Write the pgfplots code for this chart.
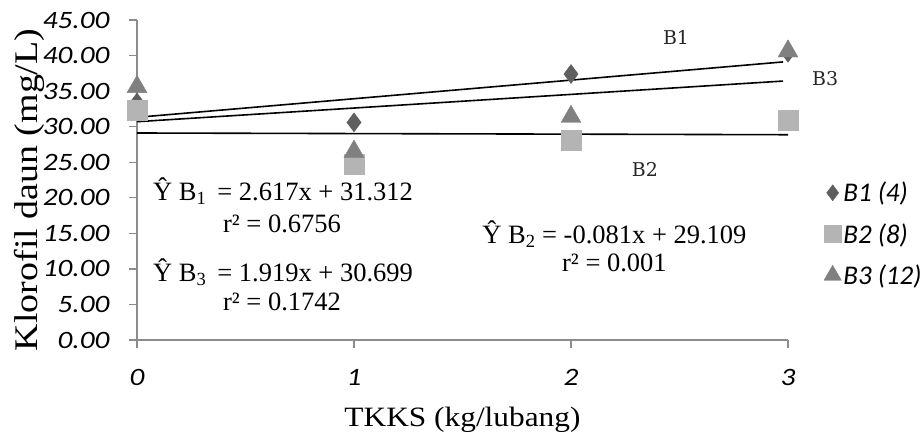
\documentclass[border=0pt]{standalone}
\usepackage{fontspec}
\usepackage{graphicx}
\setmainfont{Liberation Serif}
\newfontfamily\ticf{Carlito}
\newfontfamily\monof{DejaVu Serif}
\usepackage{pgfplots}
\pgfplotsset{compat=1.18}
\definecolor{cB1}{HTML}{5F5F5F}
\definecolor{cB2}{HTML}{B4B4B4}
\definecolor{cB3}{HTML}{808080}
\definecolor{axgray}{HTML}{8C8C8C}
\begin{document}
\begin{tikzpicture}[x=1pt,y=1pt]
\begin{axis}[
  at={(137pt,95pt)}, anchor=origin,
  scale only axis, width=651pt, height=320pt,
  xmin=0, xmax=3, ymin=0, ymax=45,
  axis x line*=bottom, axis y line*=left,
  axis line style={axgray, line width=1.4pt, -},
  xtick={0,1,2,3}, ytick={0,5,...,45},
  tick align=outside, major tick length=8pt,
  tick style={axgray, line width=1.4pt},
  clip=false,
  /pgf/number format/assume math mode=true,
  yticklabel={\scalebox{1.17}[1]{\pgfmathprintnumber[fixed,fixed zerofill,precision=2]{\tick}}},
  xticklabel={\scalebox{1.17}[1]{\pgfmathprintnumber{\tick}}},
  ticklabel style={font=\ticf\itshape\fontsize{25}{25}\selectfont},
  yticklabel style={xshift=-16pt},
  xticklabel style={yshift=-18pt},
  xlabel={\fontsize{28}{28}\selectfont\scalebox{1.12}[1]{TKKS (kg/lubang)}},
  ylabel={\fontsize{33}{33}\selectfont\scalebox{1.15}[1]{Klorofil daun (mg/L)}},
  xlabel style={yshift=-14pt},
  ylabel style={at={(ticklabel cs:0.469)}, yshift=-9pt},
  legend style={at={(1.055,0.50)}, anchor=north west, draw=none, fill=none,
    font=\ticf\itshape\fontsize{27}{27}\selectfont, row sep=16pt,
    legend cell align=left, inner sep=0pt,
    nodes={inner sep=2pt}},
  legend image code/.code={\draw[#1] plot coordinates {(0.3cm,0cm)};},
]
% trend lines
\addplot[black, line width=1.6pt, forget plot] coordinates {(0,31.312) (2.977,39.103)};
\addplot[black, line width=1.6pt, forget plot] coordinates {(0,29.109) (3,28.866)};
\addplot[black, line width=1.6pt, forget plot] coordinates {(0,30.699) (2.977,36.412)};
% data
\addplot[only marks, mark=diamond*, mark size=9.5pt, color=cB1, legend image post style={mark size=8pt}] coordinates {(0,33.4) (1,30.6) (2,37.4) (3,40.4)};
\addlegendentry{B1 (4)}
\addplot[only marks, mark=square*, mark size=9.8pt, color=cB2, legend image post style={mark size=8.5pt}] coordinates {(0,32.3) (1,24.7) (2,28.1) (3,30.9)};
\addlegendentry{B2 (8)}
\addplot[only marks, mark=triangle*, mark size=11.5pt, color=cB3, legend image post style={mark size=10pt}] coordinates {(0,35.6) (1,26.5) (2,31.4) (3,40.6)};
\addlegendentry{B3 (12)}
% labels
\node[font=\monof\fontsize{19}{19}\selectfont, text=black!85] at (axis cs:2.484,42.6) {B1};
\node[font=\monof\fontsize{19}{19}\selectfont, text=black!85] at (axis cs:3.171,36.8) {B3};
\node[font=\monof\fontsize{19}{19}\selectfont, text=black!85] at (axis cs:2.341,24.0) {B2};
\node[font=\fontsize{26.5}{26.5}\selectfont] at (axis cs:0.673,20.9) {Ŷ B\textsubscript{1} \,= 2.617x + 31.312};
\node[font=\fontsize{26.5}{26.5}\selectfont] at (axis cs:0.668,16.3) {r² = 0.6756};
\node[font=\fontsize{26.5}{26.5}\selectfont] at (axis cs:0.673,9.5) {Ŷ B\textsubscript{3} \,= 1.919x + 30.699};
\node[font=\fontsize{26.5}{26.5}\selectfont] at (axis cs:0.668,5.4) {r² = 0.1742};
\node[font=\fontsize{26.5}{26.5}\selectfont] at (axis cs:2.20,14.9) {Ŷ B\textsubscript{2} = -0.081x + 29.109};
\node[font=\fontsize{26.5}{26.5}\selectfont] at (axis cs:2.20,10.9) {r² = 0.001};
\end{axis}
\pgfresetboundingbox
\path (0,0) rectangle (923pt,435pt);
\end{tikzpicture}
\end{document}
